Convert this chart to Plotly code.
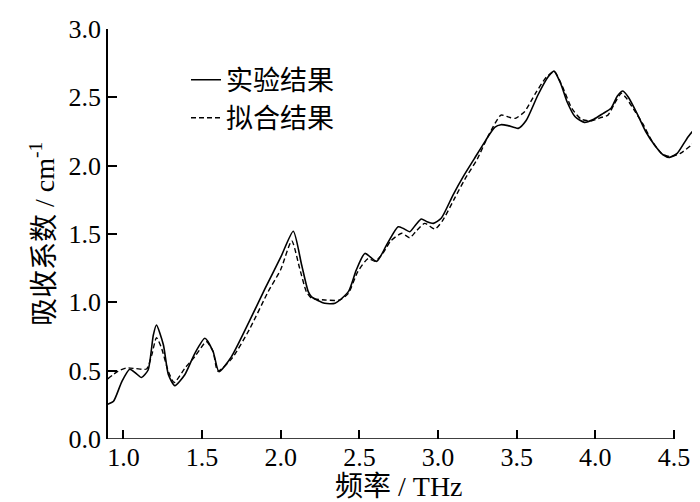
import plotly.graph_objects as go

# experimental absorption curve
freq_exp = [0.90, 0.937, 0.99, 1.04, 1.08, 1.115, 1.157, 1.19, 1.21, 1.254, 1.286, 1.327,
            1.39, 1.454, 1.518, 1.57, 1.607, 1.687, 1.80, 1.90, 2.00, 2.08, 2.133, 2.175,
            2.196, 2.28, 2.345, 2.43, 2.48, 2.535, 2.61, 2.673, 2.746, 2.78, 2.82, 2.86,
            2.894, 2.93, 2.97, 3.02, 3.095, 3.16, 3.23, 3.30, 3.36, 3.40, 3.445, 3.51, 3.56,
            3.635, 3.70, 3.737, 3.78, 3.82, 3.87, 3.93, 3.99, 4.05, 4.10, 4.14, 4.175, 4.21,
            4.27, 4.32, 4.377, 4.43, 4.472, 4.52, 4.59, 4.65, 4.716]
alpha_exp = [0.255, 0.276, 0.42, 0.51, 0.48, 0.45, 0.505, 0.76, 0.834, 0.69, 0.47, 0.39,
             0.47, 0.627, 0.737, 0.64, 0.493, 0.603, 0.86, 1.10, 1.33, 1.52, 1.273, 1.078,
             1.04, 0.993, 0.993, 1.078, 1.236, 1.358, 1.30, 1.42, 1.553, 1.54, 1.517, 1.57,
             1.61, 1.59, 1.578, 1.615, 1.785, 1.92, 2.05, 2.18, 2.28, 2.30, 2.293, 2.273, 2.33,
             2.517, 2.65, 2.692, 2.60, 2.468, 2.36, 2.317, 2.34, 2.383, 2.42, 2.51, 2.546, 2.50,
             2.37, 2.25, 2.15, 2.08, 2.061, 2.09, 2.212, 2.29, 2.358]

# fitted curve
freq_fit = [0.90, 0.967, 1.02, 1.08, 1.147, 1.18, 1.21, 1.243, 1.286, 1.323, 1.39, 1.454,
            1.528, 1.57, 1.60, 1.69, 1.80, 1.92, 2.00, 2.07, 2.12, 2.163, 2.196, 2.28, 2.375,
            2.43, 2.49, 2.556, 2.60, 2.65, 2.70, 2.77, 2.82, 2.86, 2.915, 2.98, 3.03, 3.10,
            3.17, 3.25, 3.32, 3.40, 3.45, 3.49, 3.55, 3.62, 3.69, 3.74, 3.79, 3.85, 3.91, 3.97,
            4.03, 4.08, 4.12, 4.165, 4.20, 4.25, 4.30, 4.36, 4.42, 4.48, 4.54, 4.61, 4.716]
alpha_fit = [0.44, 0.497, 0.52, 0.515, 0.512, 0.614, 0.742, 0.663, 0.493, 0.413, 0.517, 0.603,
             0.712, 0.64, 0.497, 0.59, 0.80, 1.078, 1.24, 1.45, 1.25, 1.078, 1.03, 1.017, 1.017,
             1.066, 1.225, 1.32, 1.30, 1.36, 1.45, 1.505, 1.473, 1.52, 1.578, 1.536, 1.60, 1.75,
             1.90, 2.05, 2.22, 2.37, 2.355, 2.346, 2.395, 2.53, 2.65, 2.687, 2.58, 2.42, 2.34, 2.327,
             2.35, 2.37, 2.45, 2.53, 2.49, 2.40, 2.31, 2.18, 2.09, 2.066, 2.09, 2.15, 2.27]

x_ticks = [1.0, 1.5, 2.0, 2.5, 3.0, 3.5, 4.0, 4.5]
y_ticks = [0.0, 0.5, 1.0, 1.5, 2.0, 2.5, 3.0]

FONT = '"Liberation Serif", "Times New Roman", "Noto Sans CJK SC", serif'
x_min, x_max = 0.902, 4.716

fig = go.Figure()
fig.add_trace(go.Scatter(x=freq_exp, y=alpha_exp, mode="lines", name="实验结果",
                         line=dict(color="black", width=1.6, shape="spline", smoothing=0.6)))
fig.add_trace(go.Scatter(x=freq_fit, y=alpha_fit, mode="lines", name="拟合结果",
                         line=dict(color="black", width=1.4, dash="5px,3px",
                                   shape="spline", smoothing=0.6)))

# x axis line only runs to the last tick
fig.add_shape(type="line", xref="x", yref="y", x0=x_min, x1=x_ticks[-1], y0=0, y1=0,
              line=dict(color="black", width=1.6))

fig.update_layout(
    width=700, height=502,
    margin=dict(l=100, r=0, t=21, b=71),
    plot_bgcolor="white", paper_bgcolor="white",
    font=dict(family=FONT, size=26, color="black"),
    showlegend=True,
    legend=dict(x=0.13, y=0.935, xanchor="left", yanchor="top",
                bgcolor="rgba(0,0,0,0)", font=dict(size=27), tracegroupgap=0),
    xaxis=dict(range=[x_min, x_max], tickvals=x_ticks, ticktext=[f"{v:.1f}" for v in x_ticks],
               ticks="inside", ticklen=9, tickwidth=1.5, tickcolor="black",
               showline=False, showgrid=False, zeroline=False),
    yaxis=dict(range=[0, 3.0], tickvals=y_ticks, ticktext=[f"{v:.1f}" for v in y_ticks],
               ticks="inside", ticklen=9, tickwidth=1.5, tickcolor="black",
               showline=True, linecolor="black", linewidth=1.6,
               showgrid=False, zeroline=False),
)

fig.add_annotation(text="频率 / THz", xref="paper", yref="paper", x=0.485, y=-0.117,
                   xanchor="center", yanchor="middle", showarrow=False, font=dict(size=28))
fig.add_annotation(text="吸收系数 / cm<sup>-1</sup>", xref="paper", yref="paper", x=-0.11, y=0.5,
                   xanchor="center", yanchor="middle", textangle=-90, showarrow=False,
                   font=dict(size=28))

fig.write_html("out.html")
